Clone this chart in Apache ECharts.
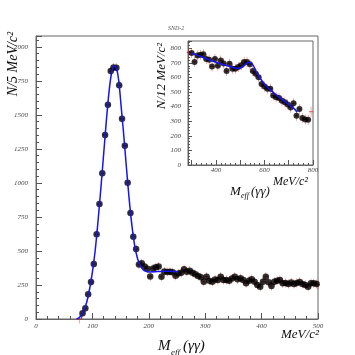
<!DOCTYPE html>
<html>
<head>
<meta charset="utf-8">
<script src="https://cdn.jsdelivr.net/npm/echarts@6/dist/echarts.min.js"></script>
<style>
  html, body { margin: 0; padding: 0; background: #fff; }
  #chart { width: 355px; height: 355px; }
</style>
</head>
<body>
<div id="chart"></div>
<script>
// main histogram, N per 5 MeV
const massMain = [82.5, 87.5, 92.5, 97.5, 102.5, 107.5, 112.5, 117.5, 122.5, 127.5,
  132.5, 137.5, 142.5, 147.5, 152.5, 157.5, 162.5, 167.5, 172.5, 177.5,
  182.5, 187.5, 192.5, 197.5, 202.5, 207.5, 212.5, 217.5, 222.5, 227.5,
  232.5, 237.5, 242.5, 247.5, 252.5, 257.5, 262.5, 267.5, 272.5, 277.5,
  282.5, 287.5, 292.5, 297.5, 302.5, 307.5, 312.5, 317.5, 322.5, 327.5,
  332.5, 337.5, 342.5, 347.5, 352.5, 357.5, 362.5, 367.5, 372.5, 377.5,
  382.5, 387.5, 392.5, 397.5, 402.5, 407.5, 412.5, 417.5, 422.5, 427.5,
  432.5, 437.5, 442.5, 447.5, 452.5, 457.5, 462.5, 467.5, 472.5, 477.5,
  482.5, 487.5, 492.5, 497.5];
const countsMain = [42, 79, 182, 272, 404, 623, 846, 1071, 1353, 1574,
  1822, 1848, 1846, 1718, 1471, 1274, 1002, 779, 605, 515,
  400, 410, 385, 370, 312, 372, 380, 385, 310, 350,
  345, 348, 343, 318, 335, 340, 365, 348, 355, 340,
  328, 316, 306, 274, 311, 281, 274, 290, 287, 311,
  287, 287, 281, 298, 311, 292, 300, 287, 262, 281,
  292, 274, 250, 237, 274, 311, 270, 243, 274, 281,
  287, 262, 265, 257, 268, 257, 265, 272, 257, 250,
  237, 262, 262, 257];
// points sitting on the frame edge (only the error cross shows)
const edgeMain = [[77.5, 0], [500, 252]];
// fitted curve
const fitMainX = [72, 76, 80, 85, 90, 95, 100, 105, 110, 115, 120, 125, 130, 135, 139,
  143, 147, 151, 155, 160, 165, 170, 175, 180, 185, 190, 195, 200, 210, 220, 230, 240, 252];
const fitMainY = [0, 8, 25, 62, 125, 220, 345, 505, 720, 960, 1215, 1470, 1690, 1830, 1862,
  1840, 1740, 1560, 1380, 1130, 890, 690, 540, 445, 392, 362, 350, 346, 347, 350, 351, 350, 348];

// inset histogram, N per 12 MeV
const massInset = [300, 312, 324, 336, 348, 360, 372, 384, 396, 408, 420, 432, 444, 456,
  468, 480, 492, 504, 516, 528, 540, 552, 564, 576, 588, 600, 612, 624, 636, 648,
  660, 672, 684, 696, 708, 720, 732, 744, 756, 768, 780];
const countsInset = [768, 706, 750, 755, 760, 727, 722, 676, 727, 680, 717, 695, 644, 694,
  660, 660, 671, 683, 706, 706, 690, 644, 625, 602, 556, 538, 522, 522, 476, 464,
  460, 441, 430, 414, 395, 423, 338, 384, 322, 312, 310];
const edgeInset = [[288, 772], [792, 365]];
const fitInsetX = [300, 340, 380, 420, 460, 485, 505, 520, 533, 543, 553, 565, 580, 600,
  620, 640, 660, 680, 700, 720, 735];
const fitInsetY = [768, 742, 716, 694, 674, 662, 668, 686, 702, 703, 685, 645, 600, 556,
  520, 492, 465, 440, 415, 390, 362];

const mainTicks = [0, 250, 500, 750, 1000, 1250, 1500, 1750, 2000];
const insetXLabels = [400, 600, 800];

const serif = "Liberation Serif";
const crossPath = "path://M4.4,0H5.6V10H4.4ZM0,4.4H10V5.6H0Z";
const frameGray = "#666666";

function pairs(xs, ys) {
  return xs.map((x, i) => [x, ys[i]]);
}

function axisX(grid, min, max, extra) {
  return Object.assign({
    gridIndex: grid, type: "value", min: min, max: max,
    axisLine: { show: true, onZero: false, lineStyle: { color: frameGray, width: 1 } },
    axisTick: { inside: true, length: 6, lineStyle: { color: "#555555" } },
    minorTick: { show: true, splitNumber: 5, length: 3, lineStyle: { color: "#555555" } },
    splitLine: { show: false },
    axisLabel: { fontSize: 7, fontStyle: "italic", fontFamily: serif, color: "#444444", margin: 4 },
  }, extra);
}

const txt = (x, y, text, size, extra) => Object.assign({
  type: "text", x: x, y: y, silent: true,
  style: { text: text, font: "italic " + size + "px " + serif, fill: "#111111" },
}, extra);

const chart = echarts.init(document.getElementById("chart"), null, { renderer: "canvas" });

const option = {
  animation: false,
  backgroundColor: "#ffffff",
  grid: [
    { left: 36, top: 36, width: 282, height: 283, show: true, borderColor: frameGray, borderWidth: 1 },
    { left: 188, top: 41, width: 125, height: 124, show: true, borderColor: frameGray, borderWidth: 1,
      backgroundColor: "#ffffff" },
  ],
  xAxis: [
    axisX(0, 0, 500, { interval: 100 }),
    axisX(1, 285, 800, {
      splitNumber: 5,
      axisTick: { inside: true, length: 5, lineStyle: { color: "#555555" } },
      minorTick: { show: true, splitNumber: 5, length: 2, lineStyle: { color: "#555555" } },
      axisLabel: { fontSize: 7, fontStyle: "italic", fontFamily: serif, color: "#444444", margin: 2,
        formatter: (v) => (insetXLabels.indexOf(v) >= 0 ? String(v) : "") },
    }),
  ],
  yAxis: [
    axisX(0, 0, 2080, {
      interval: 250,
      axisLabel: { fontSize: 7, fontStyle: "italic", fontFamily: serif, color: "#444444", margin: 8,
        formatter: (v) => (mainTicks.indexOf(v) >= 0 ? String(v) : "") },
    }),
    axisX(1, 0, 850, {
      interval: 100,
      axisTick: { inside: true, length: 4, lineStyle: { color: "#555555" } },
      minorTick: { show: true, splitNumber: 5, length: 2, lineStyle: { color: "#555555" } },
      axisLabel: { fontSize: 7, fontStyle: "italic", fontFamily: serif, color: "#444444", margin: 7,
        formatter: (v) => (v % 100 === 0 && v <= 800 ? String(v) : "") },
    }),
  ],
  series: [
    { type: "scatter", xAxisIndex: 0, yAxisIndex: 0, symbol: crossPath, symbolSize: [4, 9],
      itemStyle: { color: "#e02020" }, data: pairs(massMain, countsMain).concat(edgeMain), z: 2, silent: true },
    { type: "scatter", xAxisIndex: 0, yAxisIndex: 0, symbol: "circle", symbolSize: 6.5,
      itemStyle: { color: "#000000" }, data: pairs(massMain, countsMain), z: 3, silent: true },
    { type: "line", xAxisIndex: 0, yAxisIndex: 0, data: pairs(fitMainX, fitMainY), smooth: 0.3,
      showSymbol: false, lineStyle: { color: "#1414f0", width: 1.5 }, z: 4, silent: true },

    { type: "scatter", xAxisIndex: 1, yAxisIndex: 1, symbol: crossPath, symbolSize: [4, 10],
      itemStyle: { color: "#e02020" }, data: pairs(massInset, countsInset).concat(edgeInset), z: 2, silent: true },
    { type: "scatter", xAxisIndex: 1, yAxisIndex: 1, symbol: "circle", symbolSize: 6,
      itemStyle: { color: "#000000" }, data: pairs(massInset, countsInset), z: 3, silent: true },
    { type: "line", xAxisIndex: 1, yAxisIndex: 1, data: pairs(fitInsetX, fitInsetY), smooth: 0.3,
      showSymbol: false, lineStyle: { color: "#1414f0", width: 1.5 }, z: 4, silent: true },
  ],
  graphic: [
    txt(168, 25, "SND-2", 6, { style: { text: "SND-2", font: "italic 6px " + serif, fill: "#555555" } }),
    // y titles (rotated)
    txt(13, 64, "N/5 MeV/c²", 14, { rotation: Math.PI / 2,
      style: { text: "N/5 MeV/c²", font: "italic 14px " + serif, fill: "#111111",
        align: "center", verticalAlign: "middle", textAlign: "center", textVerticalAlign: "middle" } }),
    txt(162, 76, "N/12 MeV/c²", 13, { rotation: Math.PI / 2,
      style: { text: "N/12 MeV/c²", font: "italic 13px " + serif, fill: "#111111",
        align: "center", verticalAlign: "middle", textAlign: "center", textVerticalAlign: "middle" } }),
    // main x title
    txt(158, 339, "M", 15),
    txt(171, 348, "eff", 9),
    txt(183, 339, "(γγ)", 15),
    txt(281, 328, "MeV/c²", 13),
    // inset x title
    txt(230, 185, "M", 13),
    txt(241, 192, "eff", 8),
    txt(251, 185, "(γγ)", 13),
    txt(273, 176, "MeV/c²", 12),
  ],
};

chart.setOption(option);
</script>
</body>
</html>
